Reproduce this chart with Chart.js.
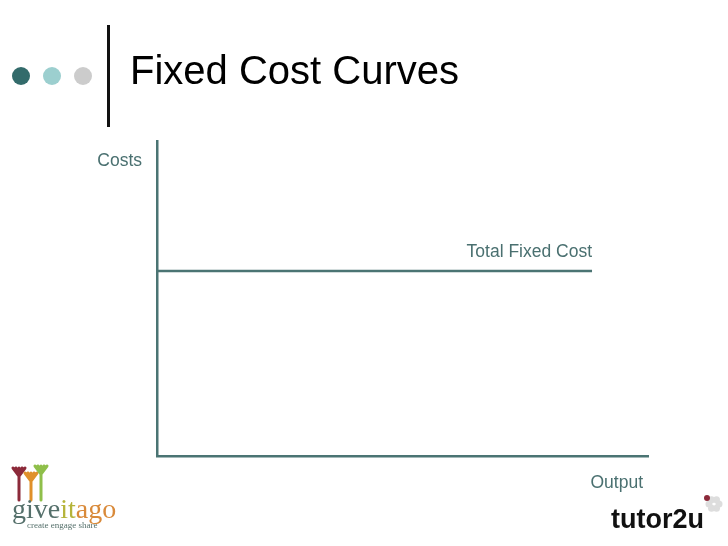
<!DOCTYPE html>
<html>
<head>
<meta charset="utf-8">
<script src="https://cdn.jsdelivr.net/npm/chart.js@4"></script>
<style>
  html, body { margin: 0; padding: 0; background: #fff; }
  canvas { display: block; }
</style>
</head>
<body>
<canvas id="chart" width="728" height="546"></canvas>
<script>
// Chart values
const outputLevels = [0, 88.6];          // x positions of the TFC line (share of output axis)
const totalFixedCost = [58.7, 58.7];     // fixed cost does not change with output
const lineLabel = 'Total Fixed Cost';
const yAxisLabel = 'Costs';
const xAxisLabel = 'Output';
const slideTitle = 'Fixed Cost Curves';

const teal = '#4b7473';
const textTeal = '#4a7070';
const sans = '"Liberation Sans", Arial, sans-serif';

// Slide decoration + axis labels, drawn after the chart
const slidePlugin = {
  id: 'slide',
  afterDraw(chart) {
    const ctx = chart.ctx;
    const x = chart.scales.x;
    const y = chart.scales.y;
    ctx.save();

    // bullet dots
    [['#336b6b', 21], ['#9ccfcf', 52], ['#cccccc', 83]].forEach(([c, cx]) => {
      ctx.beginPath();
      ctx.arc(cx, 76, 9, 0, Math.PI * 2);
      ctx.fillStyle = c;
      ctx.fill();
    });

    // divider bar
    ctx.fillStyle = '#111';
    ctx.fillRect(107, 25, 3, 102);

    // title
    ctx.fillStyle = '#000';
    ctx.font = '40px ' + sans;
    ctx.textBaseline = 'alphabetic';
    ctx.textAlign = 'left';
    ctx.fillText(slideTitle, 130, 84);

    // labels
    ctx.fillStyle = textTeal;
    ctx.font = '17.5px ' + sans;
    ctx.textAlign = 'right';
    ctx.fillText(yAxisLabel, x.left - 15, y.top + 25);
    const endX = x.getPixelForValue(outputLevels[outputLevels.length - 1]);
    const lineY = y.getPixelForValue(totalFixedCost[totalFixedCost.length - 1]);
    ctx.fillText(lineLabel, endX, lineY - 14);
    ctx.fillText(xAxisLabel, x.right - 5, y.bottom + 32);

    // giveitago logo (approximation)
    const hands = [['#8c2a3a', 18, 468], ['#e0902a', 30, 473], ['#8fbf4a', 40, 466]];
    hands.forEach(([c, hx, hy]) => {
      ctx.strokeStyle = c;
      ctx.lineWidth = 3;
      ctx.lineCap = 'round';
      ctx.beginPath();
      ctx.moveTo(hx + 1, hy + 8);
      ctx.lineTo(hx + 1, 500);
      for (let f = -2; f <= 2; f++) {
        ctx.moveTo(hx + 1, hy + 8);
        ctx.lineTo(hx + 1 + f * 3, hy);
      }
      ctx.stroke();
    });
    ctx.textAlign = 'left';
    ctx.font = '28px "Liberation Serif", "Times New Roman", serif';
    const parts = [['give', '#55706b'], ['it', '#b5b43a'], ['ago', '#d98a3a']];
    let px = 12;
    parts.forEach(([t, c]) => {
      ctx.fillStyle = c;
      ctx.fillText(t, px, 518);
      px += ctx.measureText(t).width;
    });
    ctx.fillStyle = '#55706b';
    ctx.font = '9px "Liberation Serif", serif';
    ctx.fillText('create engage share', 27, 528);

    // tutor2u logo (approximation)
    ctx.fillStyle = '#111';
    ctx.font = 'bold 27px ' + sans;
    ctx.fillText('tutor2u', 611, 528);
    ctx.fillStyle = '#ddd';
    for (let i = 0; i < 6; i++) {
      const a = i * Math.PI / 3;
      ctx.beginPath();
      ctx.arc(714 + Math.cos(a) * 5, 504 + Math.sin(a) * 5, 3.5, 0, Math.PI * 2);
      ctx.fill();
    }
    ctx.fillStyle = '#8c2a3a';
    ctx.beginPath();
    ctx.arc(707, 498, 3, 0, Math.PI * 2);
    ctx.fill();

    ctx.restore();
  }
};

const axisOpts = (min, max) => ({
  type: 'linear',
  min: min,
  max: max,
  grid: { display: false, drawTicks: false },
  ticks: { display: false },
  border: { display: true, color: teal, width: 2.5 }
});

new Chart(document.getElementById('chart').getContext('2d'), {
  type: 'line',
  data: {
    datasets: [{
      label: lineLabel,
      data: outputLevels.map((v, i) => ({ x: v, y: totalFixedCost[i] })),
      borderColor: teal,
      borderWidth: 2.5,
      pointRadius: 0,
      fill: false,
      tension: 0
    }]
  },
  options: {
    responsive: false,
    animation: false,
    devicePixelRatio: 1,
    layout: { padding: { left: 157, right: 80, top: 141, bottom: 90 } },
    scales: {
      x: axisOpts(0, 100),
      y: axisOpts(0, 100)
    },
    plugins: {
      legend: { display: false },
      tooltip: { enabled: false }
    }
  },
  plugins: [slidePlugin]
});
</script>
</body>
</html>
